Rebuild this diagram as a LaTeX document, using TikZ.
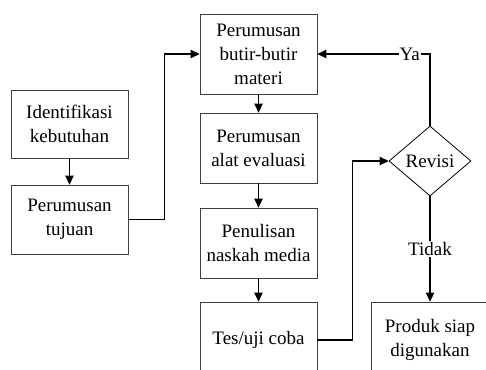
\documentclass[tikz,border=0pt]{standalone}
\usepackage{fontspec}
\setmainfont{Liberation Serif}
\newfontfamily\tmsfont{Liberation Serif}
\usetikzlibrary{shapes.geometric,arrows.meta}
\tikzset{
  txt/.style={font=\tmsfont\fontsize{19}{24}\selectfont},
  box/.style={draw=black!75, line width=0.8pt, rectangle, minimum width=117pt, inner sep=0pt, align=center, txt},
  dec/.style={draw=black, line width=0.8pt, diamond, minimum width=82pt, minimum height=70pt, aspect=1.17, inner sep=0pt, txt},
  conn/.style={line width=1.2pt, -{Triangle[length=9pt,width=8.5pt]}},
  lbl/.style={fill=white, inner sep=1pt, txt}
}
\begin{document}
\begin{tikzpicture}[x=1pt,y=-1pt]
\useasboundingbox (0,0) rectangle (486,369);
\clip (0,0) rectangle (486,369);
\node[box, minimum height=68pt] (A) at (69.5,124) {Identifikasi\\kebutuhan};
\node[box, minimum height=69pt] (B) at (69.5,219.5) {Perumusan\\tujuan};
\node[box, minimum height=80pt] (C) at (258.5,54) {Perumusan\\butir-butir\\materi};
\node[box, minimum height=70pt] (D) at (258.5,148) {Perumusan\\alat evaluasi};
\node[box, minimum height=70pt] (E) at (258.5,243) {Penulisan\\naskah media};
\node[box, minimum height=76pt] (F) at (258.5,340) {Tes/uji coba};
\node[dec] (R) at (430,161) {Revisi};
\node[box, minimum height=76pt] (G) at (430,340) {Produk siap\\digunakan};
\draw[conn] (A.south) -- (B.north);
\draw[conn] (C.south) -- (D.north);
\draw[conn] (D.south) -- (E.north);
\draw[conn] (E.south) -- (F.north);
\draw[conn] (B.east) -- ++(36,0) |- (C.west);
\draw[conn] (F.east) -- ++(35,0) |- (R.west);
\draw[conn] (R.north) |- (C.east) node[lbl, pos=0.59] {Ya};
\draw[conn] (R.south) -- (G.north) node[lbl, midway] {Tidak};
\end{tikzpicture}
\end{document}
